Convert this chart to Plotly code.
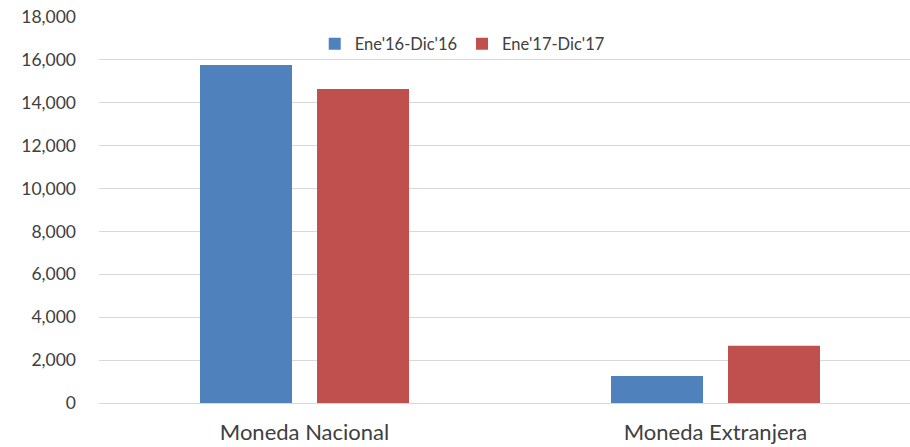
import plotly.graph_objects as go

categories = ["Moneda Nacional", "Moneda Extranjera"]
series_names = ["Ene'16-Dic'16", "Ene'17-Dic'17"]
values_2016 = [15760, 1260]
values_2017 = [14640, 2670]
colors = ["#4F81BD", "#C0504D"]
y_ticks = list(range(0, 18001, 2000))

xpos = list(range(len(categories)))

fig = go.Figure()
for name, vals, col in zip(series_names, [values_2016, values_2017], colors):
    fig.add_trace(go.Bar(x=xpos, y=vals, name=name, marker=dict(color=col, line=dict(width=0))))

font_family = "Lato, 'Open Sans', sans-serif"
fig.update_layout(
    width=910, height=447,
    margin=dict(l=99, r=0, t=17, b=44),
    paper_bgcolor="white", plot_bgcolor="white",
    barmode="group", bargap=0.4307, bargroupgap=0.2137,
    font=dict(family=font_family, color="#404040", size=17),
    legend=dict(orientation="h", x=0.266, xanchor="left", y=0.93, yanchor="middle",
                font=dict(size=16.5, color="#404040"), bgcolor="rgba(0,0,0,0)",
                itemwidth=30, traceorder="normal"),
    xaxis=dict(range=[-0.5, 1.4732], tickvals=xpos, ticktext=categories,
               showgrid=False, zeroline=False, showline=False, ticks="",
               ticklabelstandoff=14, automargin=False,
               tickfont=dict(size=22, color="#404040")),
    yaxis=dict(range=[0, 18000], tickvals=y_ticks, tickformat=",d",
               showgrid=True, gridcolor="#D9D9D9", gridwidth=1.3,
               zeroline=True, zerolinecolor="#D9D9D9", zerolinewidth=1.3,
               showline=False, ticks="", ticklabelstandoff=22, automargin=False,
               tickfont=dict(size=17.5, color="#404040")),
)

fig.write_html("out.html", config={"displayModeBar": False})
with open("out.html", "r", encoding="utf-8") as f:
    html = f.read()
html = html.replace("<head>", "<head><style>html,body{margin:0;padding:0;overflow:hidden}</style>", 1)
with open("out.html", "w", encoding="utf-8") as f:
    f.write(html)
